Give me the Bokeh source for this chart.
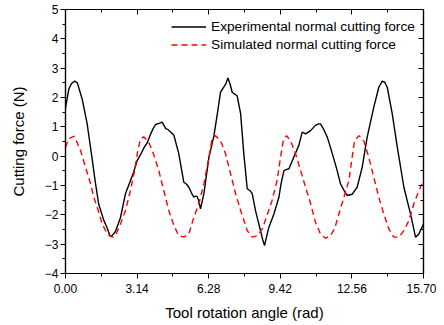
from bokeh.plotting import figure
from bokeh.models import FixedTicker, LinearAxis, Range1d, Legend, LegendItem
from bokeh.embed import file_html
from bokeh.resources import INLINE

# Experimental normal cutting force (black solid)
exp_x = [0.00, 0.15, 0.26, 0.40, 0.52, 0.73, 0.95, 1.17, 1.32, 1.46, 1.68, 1.83, 1.95, 2.05,
         2.19, 2.41, 2.63, 2.85, 3.00, 3.14, 3.29, 3.45, 3.58, 3.73, 3.85, 3.95, 4.10, 4.24,
         4.39, 4.50, 4.61, 4.75, 4.97, 5.10, 5.19, 5.30, 5.41, 5.52, 5.63, 5.70, 5.78, 5.85,
         5.92, 6.07, 6.29, 6.51, 6.65, 6.80, 6.94, 7.05, 7.12, 7.22, 7.31, 7.45, 7.53, 7.68,
         7.82, 7.97, 8.10, 8.19, 8.33, 8.55, 8.65, 8.73, 8.80, 8.92, 9.14, 9.36, 9.45, 9.58,
         9.70, 9.80, 10.01, 10.23, 10.38, 10.53, 10.75, 10.96, 11.10, 11.18, 11.30, 11.48,
         11.62, 11.77, 11.90, 12.06, 12.20, 12.35, 12.57, 12.79, 13.01, 13.23, 13.52, 13.74,
         13.89, 14.00, 14.11, 14.33, 14.55, 14.84, 15.13, 15.35, 15.50, 15.70]
exp_y = [1.65, 2.30, 2.47, 2.56, 2.50, 1.95, 1.10, -0.10, -0.95, -1.65, -2.19, -2.45, -2.72, -2.70,
         -2.57, -2.10, -1.28, -0.83, -0.52, -0.15, 0.05, 0.30, 0.45, 0.75, 0.95, 1.08, 1.12, 1.16,
         0.95, 0.90, 0.82, 0.72, 0.08, -0.50, -0.89, -0.95, -1.06, -1.25, -1.40, -1.36, -1.38, -1.55,
         -1.80, -1.28, -0.04, 0.70, 1.40, 2.18, 2.35, 2.50, 2.67, 2.45, 2.18, 2.10, 2.05, 1.45,
         0.08, -1.11, -1.18, -1.28, -1.85, -2.54, -2.85, -3.05, -2.80, -2.42, -1.97, -1.40, -0.95, -0.49,
         -0.45, -0.43, -0.04, 0.36, 0.82, 0.76, 0.87, 1.05, 1.10, 1.10, 0.95, 0.65,
         0.30, -0.10, -0.45, -0.94, -1.15, -1.34, -1.30, -1.06, -0.38, 0.65, 1.67, 2.35,
         2.56, 2.52, 2.35, 1.44, 0.31, -1.06, -1.97, -2.76, -2.65, -2.31]

# Simulated normal cutting force (red dashed)
sim_x = [0.00, 0.15, 0.39, 0.66, 0.88, 1.10, 1.24, 1.39, 1.61, 1.83, 2.05, 2.19, 2.41, 2.63,
         2.85, 3.03, 3.17, 3.29, 3.43, 3.65, 3.87, 4.09, 4.31, 4.53, 4.75, 4.97, 5.19, 5.41,
         5.63, 5.85, 6.07, 6.29, 6.43, 6.58, 6.80, 7.02, 7.24, 7.46, 7.68, 7.85, 7.97, 8.19,
         8.41, 8.63, 8.84, 9.06, 9.28, 9.43, 9.55, 9.69, 9.87, 10.09, 10.31, 10.53, 10.75,
         10.96, 11.18, 11.40, 11.62, 11.80, 11.99, 12.21, 12.43, 12.57, 12.68, 12.87, 13.08,
         13.30, 13.52, 13.74, 13.96, 14.18, 14.40, 14.62, 14.84, 15.06, 15.28, 15.50, 15.70]
sim_y = [0.30, 0.60, 0.68, 0.19, -0.38, -0.94, -1.40, -1.74, -2.31, -2.65, -2.76, -2.71, -2.31, -1.85,
         -1.17, -0.49, 0.19, 0.59, 0.66, 0.48, 0.05, -0.49, -1.17, -1.85, -2.36, -2.71, -2.76, -2.65,
         -2.08, -1.62, -0.94, -0.04, 0.59, 0.70, 0.53, 0.08, -0.60, -1.28, -1.85, -2.25, -2.54, -2.76,
         -2.71, -2.48, -2.02, -1.51, -0.83, -0.04, 0.53, 0.70, 0.53, 0.08, -0.49, -1.06, -1.62,
         -2.25, -2.65, -2.80, -2.71, -2.48, -1.97, -1.40, -0.83, -0.04, 0.53, 0.70, 0.53,
         -0.04, -0.72, -1.40, -1.97, -2.48, -2.76, -2.76, -2.54, -2.19, -1.62, -1.17, -0.83]

x_ticks = [0.00, 3.14, 6.28, 9.42, 12.56, 15.70]
x_tick_labels = ["0.00", "3.14", "6.28", "9.42", "12.56", "15.70"]
x_minor = [1.57, 4.71, 7.85, 10.99, 14.13]
y_ticks = [-4, -3, -2, -1, 0, 1, 2, 3, 4, 5]
y_minor = [-3.5, -2.5, -1.5, -0.5, 0.5, 1.5, 2.5, 3.5, 4.5]

FONT = "Liberation Sans"

p = figure(width=436, height=325, output_backend="svg", toolbar_location=None,
           x_range=Range1d(0, 15.70), y_range=Range1d(-4, 5),
           min_border_left=65, min_border_right=13, min_border_top=9, min_border_bottom=52)
p.grid.visible = False
p.background_fill_color = "white"
p.border_fill_color = "white"
p.outline_line_color = "black"
p.outline_line_width = 1.2

r1 = p.line(exp_x, exp_y, line_color="black", line_width=1.4)
r2 = p.line(sim_x, sim_y, line_color="#ff0000", line_width=1.4, line_dash="6 4")

xt = FixedTicker(ticks=x_ticks, minor_ticks=x_minor)
yt = FixedTicker(ticks=y_ticks, minor_ticks=y_minor)

def style(ax):
    ax.axis_line_color = "black"
    ax.axis_line_width = 1.2
    ax.major_tick_line_color = "black"
    ax.minor_tick_line_color = "black"
    ax.major_tick_line_width = 1
    ax.minor_tick_line_width = 1
    ax.major_label_text_font = FONT
    ax.major_label_text_font_size = "12px"
    ax.major_label_text_color = "black"
    ax.axis_label_text_font = FONT
    ax.axis_label_text_font_size = "15px"
    ax.axis_label_text_font_style = "normal"
    ax.axis_label_text_color = "black"

xa = p.xaxis[0]
xa.ticker = xt
xa.major_label_overrides = {t: l for t, l in zip(x_ticks, x_tick_labels)}
xa.axis_label = "Tool rotation angle (rad)"
style(xa)
xa.major_tick_out = 5
xa.major_tick_in = 0
xa.minor_tick_out = 3
xa.minor_tick_in = 0
xa.major_label_standoff = 5
xa.axis_label_standoff = 8

ya = p.yaxis[0]
ya.ticker = yt
ya.axis_label = "Cutting force (N)"
style(ya)
ya.major_tick_out = 5
ya.major_tick_in = 0
ya.minor_tick_out = 3
ya.minor_tick_in = 0
ya.major_label_standoff = 2
ya.axis_label_standoff = 15

top = LinearAxis(ticker=xt)
style(top)
top.major_label_text_font_size = "0px"
top.major_tick_out = 0
top.major_tick_in = 5
top.minor_tick_out = 0
top.minor_tick_in = 3
top.major_label_standoff = 0
top.major_label_overrides = {t: "" for t in x_ticks}
p.add_layout(top, "above")

right = LinearAxis(ticker=yt)
style(right)
right.major_label_text_font_size = "0px"
right.major_tick_out = 0
right.major_tick_in = 5
right.minor_tick_out = 0
right.minor_tick_in = 3
right.major_label_standoff = 0
right.major_label_overrides = {t: "" for t in y_ticks}
p.add_layout(right, "right")

legend = Legend(items=[LegendItem(label="Experimental normal cutting force", renderers=[r1]),
                       LegendItem(label="Simulated normal cutting force", renderers=[r2])],
                location=(106, 220))
legend.background_fill_alpha = 0
legend.border_line_alpha = 0
legend.label_text_font = FONT
legend.label_text_font_size = "13.7px"
legend.label_text_color = "black"
legend.glyph_width = 35
legend.glyph_height = 17
legend.label_height = 17
legend.label_standoff = 5
legend.spacing = 1
legend.padding = 0
legend.margin = 0
p.add_layout(legend)

open("out.html", "w").write(file_html(p, INLINE))
